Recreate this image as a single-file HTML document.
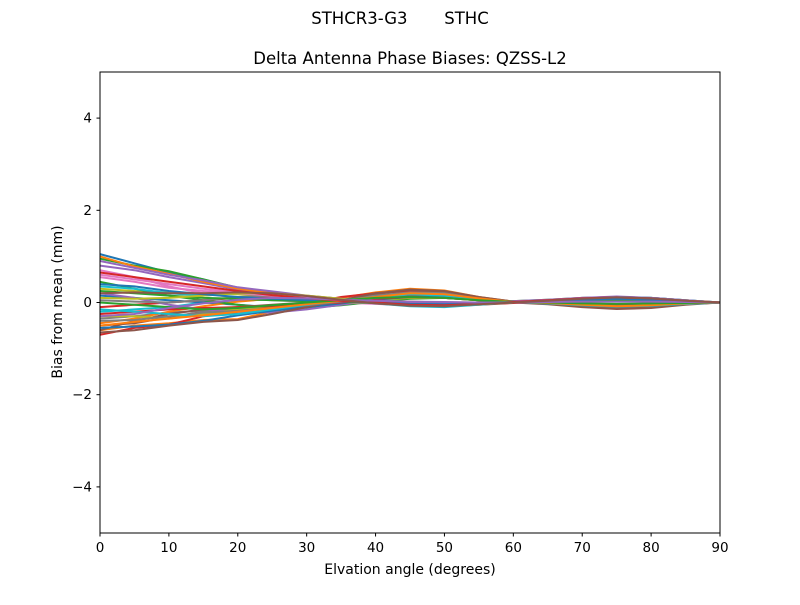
<!DOCTYPE html>
<html><head><meta charset="utf-8"><style>
body{margin:0;background:#fff;font-family:"Liberation Sans","DejaVu Sans",sans-serif;}
svg text{font-family:"DejaVu Sans","Liberation Sans",sans-serif;}
</style></head><body>
<svg id="chart" width="800" height="600" xmlns="http://www.w3.org/2000/svg">
<rect width="800" height="600" fill="#fff"/>
<text x="400" y="24" font-size="16.5" text-anchor="middle" xml:space="preserve">STHCR3-G3       STHC</text>
<text x="410" y="64" font-size="16.5" text-anchor="middle">Delta Antenna Phase Biases: QZSS-L2</text>
<g id="lines"></g>
<rect x="100" y="72" width="620" height="461" fill="none" stroke="#000" stroke-width="1"/>
<g id="axes"></g>
<text x="410" y="574" font-size="14" text-anchor="middle">Elvation angle (degrees)</text>
<text x="62" y="302" font-size="14" text-anchor="middle" transform="rotate(-90 62 302)">Bias from mean (mm)</text>
</svg>
<script>
const elevations=[0,5,10,15,20,25,30,35,40,45,50,55,60,65,70,75,80,85,90];
const xTicks=[0,10,20,30,40,50,60,70,80,90];
const yTicks=[-4,-2,0,2,4];
const yTickLabels=["\u22124","\u22122","0","2","4"];
const colors=["#1f77b4","#ff7f0e","#2ca02c","#d62728","#9467bd","#8c564b","#e377c2","#7f7f7f","#bcbd22","#17becf"];
const s1=[1.05,0.85,0.65,0.5,0.3,0.2,0.1,0.05,0.0,-0.05,-0.05,0,0.02,0.05,0.08,0.1,0.08,0.04,0];
const s2=[-0.6,-0.5,-0.45,-0.38,-0.36,-0.2,-0.05,0.1,0.22,0.3,0.26,0.12,0.02,0,-0.05,-0.08,-0.05,-0.02,0];
const s3=[0.95,0.8,0.68,0.5,0.32,0.22,0.14,0.08,0.02,-0.03,-0.04,-0.01,0.03,0.06,0.1,0.12,0.1,0.05,0];
const s4=[-0.7,-0.55,-0.48,-0.3,-0.2,-0.1,-0.02,0.12,0.2,0.25,0.2,0.1,0.02,-0.02,-0.08,-0.12,-0.1,-0.04,0];
const s5=[0.8,0.7,0.55,0.42,0.28,0.18,0.1,0.04,0,-0.04,-0.06,-0.03,0.01,0.05,0.1,0.13,0.1,0.05,0];
const s6=[-0.5,-0.45,-0.32,-0.2,-0.25,-0.18,-0.08,0.05,0.18,0.28,0.22,0.1,0,-0.04,-0.1,-0.14,-0.12,-0.05,0];
const s7=[0.6,0.5,0.4,0.3,0.22,0.15,0.08,0.03,-0.02,-0.06,-0.07,-0.04,0,0.04,0.09,0.11,0.08,0.04,0];
const s8=[-0.35,-0.3,-0.22,-0.18,-0.15,-0.12,-0.05,0.05,0.15,0.22,0.2,0.1,0.02,-0.02,-0.06,-0.1,-0.08,-0.03,0];
const s9=[0.3,0.25,0.22,0.2,0.18,0.14,0.1,0.05,0,-0.05,-0.06,-0.03,0.01,0.04,0.08,0.1,0.08,0.04,0];
const s10=[-0.2,-0.15,-0.1,0,0.05,0.06,0.05,0.06,0.1,0.15,0.12,0.06,0.01,-0.02,-0.05,-0.08,-0.06,-0.03,0];
const s11=[0.15,0.1,0.05,0.0,-0.05,-0.1,-0.08,-0.02,0.05,0.1,0.1,0.06,0.02,0.02,0.04,0.05,0.05,0.02,0];
const s12=[-0.45,-0.35,-0.2,-0.08,0.02,0.08,0.1,0.08,0.05,0.02,0,0,0,0.01,0.02,0.03,0.02,0.01,0];
const s13=[0.45,0.3,0.15,0.05,-0.05,-0.12,-0.12,-0.06,0.02,0.08,0.1,0.05,0,0,0.02,0.04,0.04,0.02,0];
const s14=[-0.1,-0.05,0,0.05,0.1,0.12,0.1,0.05,0,-0.05,-0.08,-0.05,-0.01,0.02,0.06,0.08,0.06,0.03,0];
const s15=[0.2,0.1,-0.05,-0.15,-0.2,-0.22,-0.15,-0.05,0.05,0.15,0.15,0.08,0.02,-0.02,-0.05,-0.08,-0.06,-0.03,0];
const s16=[-0.6,-0.4,-0.25,-0.15,-0.1,-0.05,0,0.05,0.1,0.15,0.12,0.06,0.02,0,-0.03,-0.05,-0.04,-0.02,0];
const s17=[0.7,0.55,0.35,0.2,0.1,0.05,0.02,0,-0.03,-0.06,-0.06,-0.03,0,0.03,0.07,0.09,0.07,0.03,0];
const s18=[0.05,0.02,0.0,0.05,0.12,0.15,0.12,0.06,0.0,-0.04,-0.05,-0.03,0,0.03,0.06,0.08,0.06,0.03,0];
const s19=[-0.3,-0.3,-0.35,-0.25,-0.15,-0.08,-0.05,-0.02,0.05,0.1,0.1,0.05,0.01,0,-0.02,-0.04,-0.03,-0.01,0];
const s20=[0.35,0.3,0.2,0.15,0.2,0.18,0.12,0.05,-0.02,-0.08,-0.1,-0.05,0,0.04,0.08,0.12,0.1,0.05,0];
const s21=[-0.55,-0.52,-0.48,-0.4,-0.28,-0.18,-0.1,-0.02,0.06,0.12,0.12,0.06,0.01,-0.01,-0.04,-0.07,-0.05,-0.02,0];
const s22=[1.0,0.78,0.62,0.45,0.3,0.2,0.12,0.06,0.01,-0.04,-0.05,-0.02,0.02,0.05,0.09,0.11,0.09,0.04,0];
const s23=[0.25,0.2,0.15,0.1,0.08,0.05,0.03,0.01,-0.01,-0.02,-0.02,-0.01,0,0.02,0.03,0.04,0.03,0.01,0];
const s24=[-0.25,-0.2,-0.15,-0.12,-0.1,-0.08,-0.05,0.0,0.08,0.12,0.1,0.05,0.01,-0.01,-0.03,-0.05,-0.04,-0.02,0];
const s25=[0.9,0.75,0.6,0.48,0.33,0.24,0.15,0.08,0.03,-0.02,-0.03,0,0.03,0.06,0.1,0.12,0.1,0.05,0];
const s26=[-0.65,-0.6,-0.5,-0.42,-0.38,-0.25,-0.1,0.05,0.2,0.28,0.25,0.12,0.02,-0.02,-0.07,-0.1,-0.08,-0.03,0];
const s27=[0.55,0.45,0.32,0.25,0.2,0.15,0.1,0.05,0.0,-0.04,-0.05,-0.02,0.01,0.04,0.08,0.1,0.08,0.04,0];
const s28=[-0.4,-0.38,-0.3,-0.22,-0.18,-0.12,-0.06,0.02,0.1,0.18,0.16,0.08,0.01,-0.02,-0.05,-0.08,-0.06,-0.03,0];
const s29=[0.1,0.08,0.1,0.15,0.2,0.2,0.15,0.08,0.0,-0.06,-0.07,-0.04,0,0.04,0.08,0.1,0.08,0.04,0];
const s30=[-0.15,-0.2,-0.25,-0.3,-0.25,-0.15,-0.05,0.05,0.12,0.18,0.15,0.08,0.01,-0.02,-0.06,-0.09,-0.07,-0.03,0];
const s31=[0.4,0.35,0.25,0.18,0.12,0.08,0.05,0.03,0.0,-0.03,-0.04,-0.02,0,0.03,0.06,0.08,0.06,0.03,0];
const s32=[-0.5,-0.42,-0.35,-0.28,-0.2,-0.12,-0.04,0.04,0.12,0.2,0.18,0.09,0.01,-0.01,-0.05,-0.08,-0.06,-0.02,0];
const s33=[0.0,-0.05,-0.1,-0.15,-0.12,-0.06,0.0,0.05,0.1,0.12,0.1,0.05,0.01,0,-0.02,-0.03,-0.02,-0.01,0];
const s34=[0.65,0.55,0.45,0.35,0.25,0.16,0.09,0.04,0.0,-0.05,-0.06,-0.03,0.01,0.05,0.09,0.11,0.09,0.04,0];
const s35=[-0.3,-0.25,-0.12,-0.02,0.06,0.1,0.09,0.06,0.04,0.02,0.01,0,0,0.01,0.02,0.02,0.02,0.01,0];
const s36=[0.2,0.22,0.2,0.2,0.22,0.2,0.14,0.06,-0.02,-0.07,-0.08,-0.04,0,0.04,0.08,0.11,0.09,0.04,0];
const series=[s1,s2,s3,s4,s5,s6,s7,s8,s9,s10,s11,s12,s13,s14,s15,s16,s17,s18,s19,s20,s21,s22,s23,s24,s25,s26,s27,s28,s29,s30,s31,s32,s33,s34,s35,s36];
const X=v=>100+v/90*620, Y=v=>302.5-v/5*230.5;
const NS="http://www.w3.org/2000/svg";
const lg=document.getElementById('lines');
series.forEach((s,i)=>{
  const p=document.createElementNS(NS,'polyline');
  p.setAttribute('points',s.map((v,j)=>X(elevations[j]).toFixed(1)+','+Y(v).toFixed(1)).join(' '));
  p.setAttribute('fill','none');p.setAttribute('stroke',colors[i%10]);p.setAttribute('stroke-width','2');
  
  
  lg.appendChild(p);
});
const ax=document.getElementById('axes');
xTicks.forEach(t=>{
  const l=document.createElementNS(NS,'line');
  l.setAttribute('x1',X(t));l.setAttribute('x2',X(t));l.setAttribute('y1',533);l.setAttribute('y2',536.5);l.setAttribute('stroke','#000');
  
  
  ax.appendChild(l);
  const tx=document.createElementNS(NS,'text');
  tx.setAttribute('x',X(t));tx.setAttribute('y',552);tx.setAttribute('font-size','13.5');tx.setAttribute('text-anchor','middle');tx.textContent=t;
  
  
  ax.appendChild(tx);
});
yTicks.forEach((t,i)=>{
  const l=document.createElementNS(NS,'line');
  l.setAttribute('x1',96.5);l.setAttribute('x2',100);l.setAttribute('y1',Y(t));l.setAttribute('y2',Y(t));l.setAttribute('stroke','#000');
  
  
  ax.appendChild(l);
  const tx=document.createElementNS(NS,'text');
  tx.setAttribute('x',92);tx.setAttribute('y',Y(t)+4.5);tx.setAttribute('font-size','13.5');tx.setAttribute('text-anchor','end');tx.textContent=yTickLabels[i];
  
  
  ax.appendChild(tx);
});
</script>
</body></html>
